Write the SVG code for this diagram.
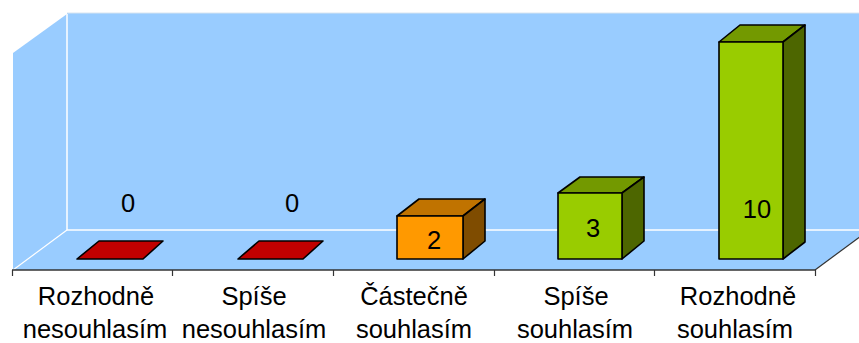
<svg xmlns="http://www.w3.org/2000/svg" width="859" height="343" viewBox="0 0 859 343">
<style>
.lbl{font-family:"Liberation Sans",Arial,sans-serif;font-size:25.5px;fill:#000;text-anchor:middle}
.bar{stroke:#000;stroke-width:1.6;stroke-linejoin:round}
.red{fill:#C00000}
.of{fill:#FF9900}.ot{fill:#C07300}.os{fill:#7F4C00}
.gf{fill:#99CC00}.gt{fill:#739900}.gs{fill:#4D6600}
</style>
<rect width="859" height="343" fill="#fff"/>
<g id="plot">
<polygon points="13,53 67,14 67,230 13,270" fill="#99CCFF"/>
<rect x="67" y="13" width="792" height="217" fill="#99CCFF"/>
<polygon points="13,270 67,230 869,230 815,270" fill="#99CCFF"/>
<line x1="67" y1="13" x2="859" y2="13" stroke="#d8e4f0" stroke-width="1"/>
<line x1="67" y1="14" x2="67" y2="230" stroke="#fff" stroke-width="1.5"/>
<line x1="67" y1="230" x2="859" y2="230" stroke="#fff" stroke-width="1.5"/>
<line x1="13" y1="270" x2="67" y2="230" stroke="#fff" stroke-width="1.2"/>
<line x1="815" y1="270" x2="869" y2="230" stroke="#333" stroke-width="1.2"/>
<line x1="12" y1="270" x2="815" y2="270" stroke="#333" stroke-width="1.5"/>
<g stroke="#333" stroke-width="1.2">
<line x1="12.5" y1="270" x2="12.5" y2="276"/>
<line x1="172.5" y1="270" x2="172.5" y2="276"/>
<line x1="333.5" y1="270" x2="333.5" y2="276"/>
<line x1="494.5" y1="270" x2="494.5" y2="276"/>
<line x1="654.5" y1="270" x2="654.5" y2="276"/>
<line x1="815.5" y1="270" x2="815.5" y2="276"/>
</g>
</g>
<g id="bar1">
<polygon class="bar red" points="77,259 143,259 163,241 99,241"/>
<text class="lbl" x="128" y="212">0</text>
</g>
<g id="bar2">
<polygon class="bar red" points="238,259 303,259 323,241 259,241"/>
<text class="lbl" x="292" y="212">0</text>
</g>
<g id="bar3">
<polygon class="bar ot" points="397,216 419,199 485,199 463,216"/>
<polygon class="bar os" points="463,216 485,199 485,241 463,259"/>
<rect class="bar of" x="397" y="216" width="66" height="43"/>
<text class="lbl" x="434" y="249">2</text>
</g>
<g id="bar4">
<polygon class="bar gt" points="558,193 580,177 644,177 622,193"/>
<polygon class="bar gs" points="622,193 644,177 644,241 622,259"/>
<rect class="bar gf" x="558" y="193" width="64" height="66"/>
<text class="lbl" x="593" y="237">3</text>
</g>
<g id="bar5">
<polygon class="bar gt" points="719,42 740,25 805,25 783,42"/>
<polygon class="bar gs" points="783,42 805,25 805,242 783,259"/>
<rect class="bar gf" x="719" y="42" width="64" height="217"/>
<text class="lbl" x="757" y="218">10</text>
</g>
<g id="labels">
<text class="lbl" x="96" y="305">Rozhodně</text>
<text class="lbl" x="95" y="338">nesouhlasím</text>
<text class="lbl" x="254" y="305">Spíše</text>
<text class="lbl" x="254" y="338">nesouhlasím</text>
<text class="lbl" x="414" y="305">Částečně</text>
<text class="lbl" x="414" y="338">souhlasím</text>
<text class="lbl" x="576" y="305">Spíše</text>
<text class="lbl" x="575" y="338">souhlasím</text>
<text class="lbl" x="738" y="305">Rozhodně</text>
<text class="lbl" x="735" y="338">souhlasím</text>
</g>
</svg>
